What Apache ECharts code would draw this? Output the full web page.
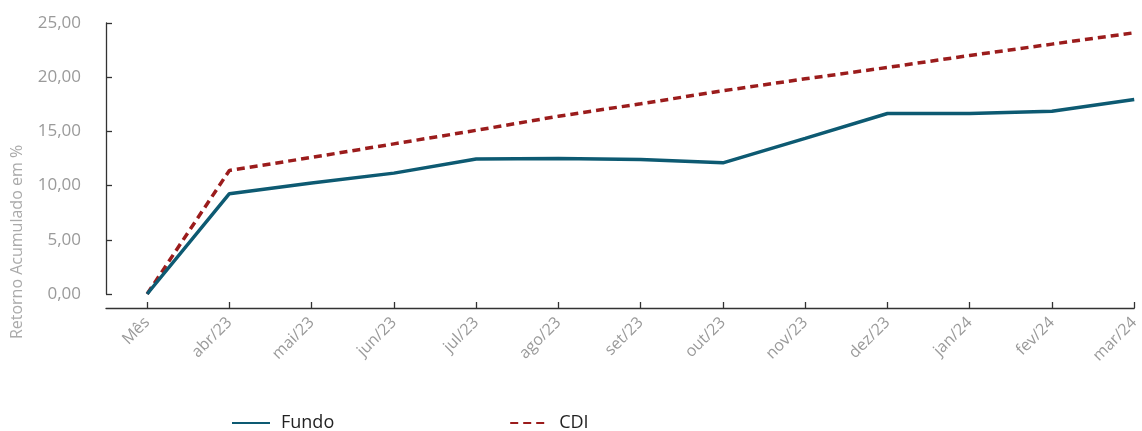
<!DOCTYPE html>
<html><head><meta charset="utf-8">
<script src="https://cdn.jsdelivr.net/npm/echarts@6/dist/echarts.min.js"></script>
<style>html,body{margin:0;padding:0;background:#fff}#c{width:1142px;height:431px}</style>
</head><body><div id="c"></div>
<script>
const categories = ['Mês','abr/23','mai/23','jun/23','jul/23','ago/23','set/23','out/23','nov/23','dez/23','jan/24','fev/24','mar/24'];
const fundo = [0, 9.25, 10.25, 11.15, 12.45, 12.5, 12.4, 12.1, 14.35, 16.65, 16.65, 16.85, 17.95];
const cdi = [0, 11.4, 12.6, 13.85, 15.1, 16.4, 17.55, 18.75, 19.85, 20.9, 22.0, 23.05, 24.1];
const yTicks = [0, 5, 10, 15, 20, 25];
const yName = 'Retorno Acumulado em %';

const idx = categories.map((_, i) => i);
const chart = echarts.init(document.getElementById('c'));
const font = '"Open Sans", "Noto Sans", sans-serif';
chart.setOption({
  animation: false,
  grid: { left: 106, right: 5, top: 23, height: 271 },
  xAxis: {
    type: 'value', min: -0.5, max: 12, offset: 14,
    splitLine: { show: false },
    axisLine: { show: true, onZero: false, lineStyle: { color: '#333', width: 1.3 } },
    axisTick: { show: true, inside: true, length: 6, customValues: idx, lineStyle: { color: '#333', width: 1.3 } },
    axisLabel: { customValues: idx, rotate: 45, margin: 12, color: '#9a9a9a', fontSize: 16, fontFamily: font,
      formatter: v => categories[Math.round(v)] }
  },
  yAxis: {
    type: 'value', min: 0, max: 25, interval: 5,
    splitLine: { show: false },
    axisLine: { show: true, onZero: false, lineStyle: { color: '#333', width: 1.3 } },
    axisTick: { show: true, inside: true, length: 6, lineStyle: { color: '#333', width: 1.3 } },
    axisLabel: { margin: 25, color: '#9a9a9a', fontSize: 17, fontFamily: font,
      formatter: v => yTicks.includes(v) ? v.toFixed(2).replace('.', ',') : '' }
  },
  legend: {
    left: 226, top: 409, itemWidth: 38, itemHeight: 14, itemGap: 175,
    itemStyle: { opacity: 0, borderWidth: 0 },
    textStyle: { color: '#222', fontSize: 18, fontFamily: font, padding: [0, 0, 0, 6] },
    data: ['Fundo', 'CDI']
  },
  graphic: [{
    type: 'text', x: 17, y: 242, rotation: Math.PI / 2,
    style: { text: yName, fill: '#aaa', font: '16px ' + font, align: 'center', verticalAlign: 'middle' }
  }],
  series: [
    { name: 'CDI', type: 'line', symbol: 'none', z: 2,
      data: cdi.map((v, i) => [i, v]),
      lineStyle: { color: '#9b1c1c', width: 3.5, type: [8, 5] }, itemStyle: { color: '#9b1c1c' } },
    { name: 'Fundo', type: 'line', symbol: 'none', z: 3,
      data: fundo.map((v, i) => [i, v]),
      lineStyle: { color: '#0d5a72', width: 3.5 }, itemStyle: { color: '#0d5a72' } }
  ]
});
</script></body></html>
